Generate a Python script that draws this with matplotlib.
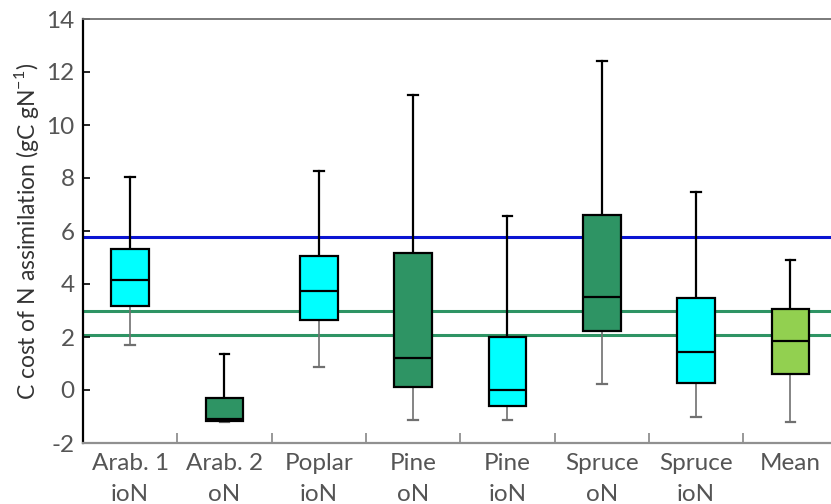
import numpy as np
import matplotlib.pyplot as plt

# categories and box statistics
labels = ['Arab. 1\nioN', 'Arab. 2\noN', 'Poplar\nioN', 'Pine\noN', 'Pine\nioN',
          'Spruce\noN', 'Spruce\nioN', 'Mean']
whislo = [1.70, -1.22, 0.86, -1.13, -1.13, 0.21, -1.01, -1.22]
q1 = [3.17, -1.17, 2.64, 0.10, -0.60, 2.24, 0.25, 0.59]
med = [4.15, -1.10, 3.72, 1.20, 0.00, 3.50, 1.45, 1.85]
q3 = [5.32, -0.31, 5.06, 5.18, 2.01, 6.59, 3.48, 3.07]
whishi = [8.04, 1.36, 8.26, 11.13, 6.57, 12.43, 7.47, 4.91]
box_colors = ['#00FFFF', '#2E9464', '#00FFFF', '#2E9464', '#00FFFF',
              '#2E9464', '#00FFFF', '#92D050']

# reference lines
blue_line = 5.76
green_lines = [2.97, 2.09]

plt.rcParams['font.family'] = ['Lato', 'DejaVu Sans']
plt.rcParams['axes.unicode_minus'] = False

fig = plt.figure(figsize=(8.31, 5.04), dpi=100)
ax = fig.add_axes([83 / 831, 61 / 504, 1 - 83 / 831, 424 / 504])

ax.axhline(blue_line, color='#0A14D2', lw=2.2, zorder=1)
for g in green_lines:
    ax.axhline(g, color='#2E9464', lw=2.2, zorder=1)

stats = []
for i in range(len(labels)):
    stats.append({'whislo': whislo[i], 'q1': q1[i], 'med': med[i],
                  'q3': q3[i], 'whishi': whishi[i], 'fliers': []})

pos = np.arange(len(labels))
bp = ax.bxp(stats, positions=pos, widths=0.4, patch_artist=True,
            showfliers=False,
            boxprops=dict(edgecolor='black', linewidth=1.6),
            medianprops=dict(color='black', linewidth=1.6),
            whiskerprops=dict(color='black', linewidth=1.6),
            capprops=dict(color='black', linewidth=1.6), capwidths=0.1)

for patch, c in zip(bp['boxes'], box_colors):
    patch.set_facecolor(c)
    patch.set_zorder(3)
for m in bp['medians']:
    m.set_zorder(4)

# lower whiskers and caps are grey and thinner
for i in range(len(labels)):
    bp['whiskers'][2 * i].set_color('#707070')
    bp['whiskers'][2 * i].set_linewidth(1.2)
    bp['caps'][2 * i].set_color('#707070')
    bp['caps'][2 * i].set_linewidth(1.6)

ax.set_ylim(-2, 14)
ax.set_xlim(-0.5, 7.43)
ax.set_yticks(np.arange(-2, 15, 2))
ax.set_xticks(pos)
ax.set_xticklabels(labels, fontsize=17.5, color='#555555', linespacing=1.6)
ax.set_xticks(pos[:-1] + 0.5, minor=True)
ax.tick_params(axis='x', which='major', length=0, pad=7)
ax.tick_params(axis='x', which='minor', direction='in', length=7,
               color='#909090', width=1.3)
ax.tick_params(axis='y', direction='in', length=5, labelsize=17.5,
               labelcolor='#555555', width=1.2, pad=6)

ax.set_ylabel('C cost of N assimilation (gC gN$^{\\mathregular{-1}}$)',
              fontsize=16.5, color='#333333', labelpad=4)

ax.spines['left'].set_linewidth(1.6)
ax.spines['left'].set_color('black')
ax.spines['bottom'].set_color('#909090')
ax.spines['bottom'].set_linewidth(1.6)
ax.spines['top'].set_color('#707070')
ax.spines['top'].set_linewidth(1.3)
ax.spines['right'].set_visible(False)

fig.savefig('out.png', dpi=100)
